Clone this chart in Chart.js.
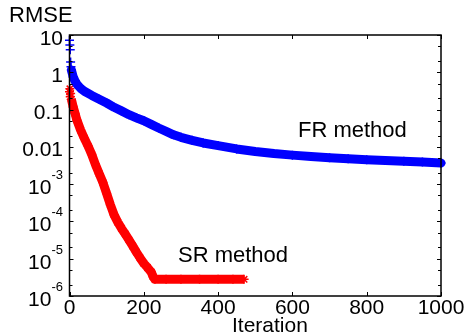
<!DOCTYPE html>
<html><head><meta charset="utf-8">
<script src="https://cdn.jsdelivr.net/npm/chart.js@4.4.1/dist/chart.umd.min.js"></script>
<style>html,body{margin:0;padding:0;background:#fff;}#wrap{width:473px;height:336px;position:relative;}</style>
</head><body><div id="wrap"><canvas id="c" width="473" height="336"></canvas></div>
<script>
const xTicks = [0, 200, 400, 600, 800, 1000];
const yDecades = [10, 1, 0.1, 0.01, 1e-3, 1e-4, 1e-5, 1e-6];
const yTickBase = ['10', '1', '0.1', '0.01', '10', '10', '10', '10'];
const yTickExp  = ['', '', '', '', '-3', '-4', '-5', '-6'];
const yLabel = 'RMSE';
const xLabel = 'Iteration';
const seriesNames = ['FR method', 'SR method'];

const frIter = [0, 1, 2, 3, 4, 5, 10, 15, 20, 30, 40, 60, 80, 100, 120, 140, 160, 180, 200, 220, 240, 260, 280, 300, 330, 360, 400, 450, 500, 550, 600, 650, 700, 750, 800, 850, 900, 950, 1000];
const frRmse = [7.2, 5.4, 4.0, 1.9, 1.4, 1.15, 0.75, 0.58, 0.48, 0.37, 0.31, 0.24, 0.19, 0.15, 0.115, 0.092, 0.073, 0.06, 0.05, 0.04, 0.032, 0.026, 0.021, 0.018, 0.015, 0.0127, 0.0108, 0.0088, 0.0075, 0.0066, 0.006, 0.0055, 0.0051, 0.0048, 0.0045, 0.0043, 0.0041, 0.0039, 0.0037];

const srIter = [0, 1, 2, 3, 5, 10, 15, 20, 30, 40, 50, 60, 70, 80, 90, 100, 110, 120, 130, 140, 150, 160, 170, 180, 190, 200, 210, 220, 225, 230, 260, 300, 350, 400, 440, 470];
const srRmse = [0.30, 0.36, 0.22, 0.27, 0.19, 0.117, 0.078, 0.052, 0.028, 0.017, 0.0105, 0.0062, 0.0033, 0.0019, 0.0011, 5.6e-4, 2.8e-4, 1.5e-4, 9.5e-5, 6.5e-5, 4.6e-5, 3.2e-5, 2.2e-5, 1.5e-5, 1.05e-5, 7.5e-6, 5.8e-6, 4.4e-6, 3.3e-6, 2.8e-6, 2.8e-6, 2.8e-6, 2.8e-6, 2.8e-6, 2.8e-6, 2.8e-6];

const FONT = 'Liberation Sans, Arial, Helvetica, sans-serif';

const decorPlugin = {
  id: 'decor',
  afterDatasetsDraw(chart) {
    const ctx = chart.ctx;
    const a = chart.chartArea;
    const xs = chart.scales.x, ys = chart.scales.y;
    ctx.save();
    ctx.strokeStyle = '#000';
    ctx.lineWidth = 1.5;
    ctx.strokeRect(a.left, a.top, a.right - a.left, a.bottom - a.top);
    ctx.lineWidth = 1;
    xTicks.forEach(v => {
      const px = Math.round(xs.getPixelForValue(v)) + 0.5;
      ctx.beginPath();
      ctx.moveTo(px, a.bottom); ctx.lineTo(px, a.bottom - 4);
      ctx.moveTo(px, a.top); ctx.lineTo(px, a.top + 4);
      ctx.stroke();
    });
    yDecades.forEach(d => {
      [1, 2, 5].forEach(m => {
        const v = d * m;
        if (v > 10 || v < 1e-6) return;
        const py = Math.round(ys.getPixelForValue(v)) + 0.5;
        const len = m === 1 ? 4 : 3;
        ctx.beginPath();
        ctx.moveTo(a.left, py); ctx.lineTo(a.left + len, py);
        ctx.moveTo(a.right, py); ctx.lineTo(a.right - len, py);
        ctx.stroke();
      });
    });
    ctx.fillStyle = '#000';
    ctx.textBaseline = 'alphabetic';
    ctx.textAlign = 'right';
    const rx = a.left - 6.5;
    yDecades.forEach((d, i) => {
      const py = ys.getPixelForValue(d);
      if (!yTickExp[i]) {
        ctx.font = '21px ' + FONT;
        ctx.fillText(yTickBase[i], rx, py + 9.5);
      } else {
        ctx.font = '13px ' + FONT;
        const ew = ctx.measureText(yTickExp[i]).width;
        ctx.fillText(yTickExp[i], rx, py - 5);
        ctx.font = '21px ' + FONT;
        ctx.fillText(yTickBase[i], rx - ew, py + 10);
      }
    });
    ctx.textAlign = 'left';
    ctx.font = '22px ' + FONT;
    ctx.fillText(yLabel, 9, 22);
    ctx.font = '21px ' + FONT;
    ctx.fillText(xLabel, 232, 331.5);
    ctx.font = '22px ' + FONT;
    ctx.fillText(seriesNames[0], 298, 137);
    ctx.fillText(seriesNames[1], 178, 262);
    ctx.restore();
  }
};

new Chart(document.getElementById('c'), {
  type: 'scatter',
  data: {
    datasets: [
      {
        label: seriesNames[0],
        data: frIter.map((x, i) => ({ x, y: frRmse[i] })),
        showLine: true,
        borderColor: '#0000ff',
        borderWidth: 9,
        borderJoinStyle: 'round',
        borderCapStyle: 'round',
        backgroundColor: '#0000ff',
        pointStyle: 'cross',
        pointRadius: 4.5,
        pointBorderWidth: 1.5,
        pointBorderColor: '#0000ff',
        clip: false,
        segment: { borderColor: c => c.p0.parsed.x < 5 ? 'rgba(0,0,0,0)' : '#0000ff' }
      },
      {
        label: seriesNames[1],
        data: srIter.map((x, i) => ({ x, y: srRmse[i] })),
        showLine: true,
        borderColor: '#ff0000',
        borderWidth: 9,
        borderJoinStyle: 'round',
        backgroundColor: '#ff0000',
        pointStyle: 'star',
        pointRadius: 4.5,
        pointBorderWidth: 1.5,
        pointBorderColor: '#ff0000',
        clip: false,
        segment: { borderColor: c => c.p0.parsed.x < 5 ? 'rgba(0,0,0,0)' : '#ff0000' }
      }
    ]
  },
  options: {
    responsive: false,
    animation: false,
    devicePixelRatio: 1,
    layout: { padding: { top: 35, right: 32, left: 0, bottom: 0 } },
    plugins: { legend: { display: false }, tooltip: { enabled: false } },
    scales: {
      x: {
        type: 'linear', min: 0, max: 1000,
        afterFit(s) { s.height = 40; },
        afterBuildTicks(s) { s.ticks = xTicks.map(v => ({ value: v })); },
        grid: { display: false, drawTicks: false },
        border: { display: false },
        ticks: { font: { family: FONT, size: 21 }, color: '#000', padding: 0, maxRotation: 0, autoSkip: false, callback: v => String(v) }
      },
      y: {
        type: 'logarithmic', min: 1e-6, max: 10,
        afterFit(s) { s.width = 69.5; },
        grid: { display: false, drawTicks: false },
        border: { display: false },
        ticks: { display: false }
      }
    }
  },
  plugins: [decorPlugin]
});
</script>
</body></html>
